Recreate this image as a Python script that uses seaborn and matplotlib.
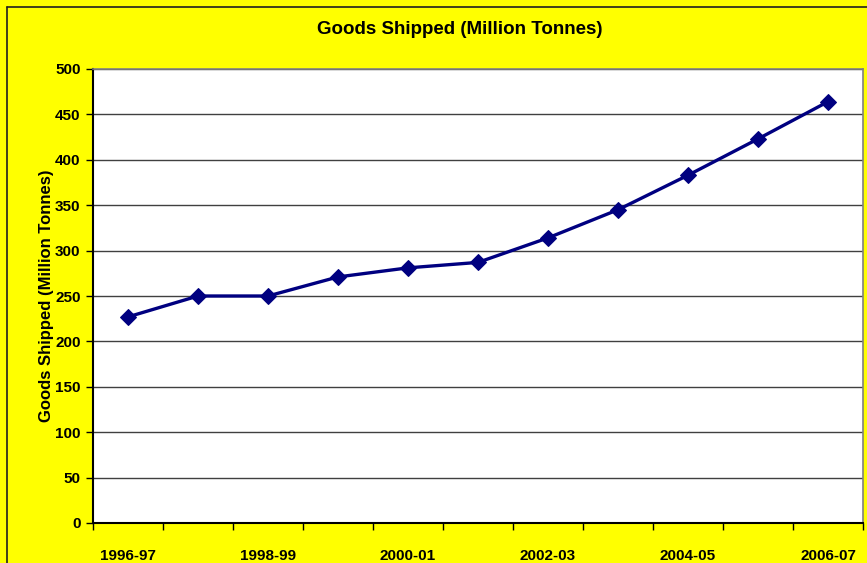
import matplotlib
matplotlib.use("Agg")
import matplotlib.pyplot as plt
import seaborn as sns
import pandas as pd
from matplotlib.lines import Line2D

years = ["1996-97", "1997-98", "1998-99", "1999-00", "2000-01", "2001-02",
         "2002-03", "2003-04", "2004-05", "2005-06", "2006-07"]
shipped = [227, 250, 250, 271, 281, 287, 314, 345, 383, 423, 464]
y_ticks = [0, 50, 100, 150, 200, 250, 300, 350, 400, 450, 500]

sns.set_theme(style="white")
plt.rcParams['font.family'] = ['Liberation Sans', 'DejaVu Sans']
plt.rcParams['text.color'] = 'black'
plt.rcParams['axes.labelcolor'] = 'black'
plt.rcParams['xtick.color'] = 'black'
plt.rcParams['ytick.color'] = 'black'

W, H = 867, 563
fig = plt.figure(figsize=(W / 100, H / 100), dpi=100)
fig.patch.set_facecolor("#FFFF00")

ax = fig.add_axes([93 / W, 1 - 523 / H, (863 - 93) / W, (523 - 69) / H])
ax.set_facecolor("white")

df = pd.DataFrame({"x": range(len(years)), "y": shipped})
sns.lineplot(data=df, x="x", y="y", ax=ax, color="#000080", linewidth=2.4,
             marker="D", markersize=8, markeredgecolor="#000080")

ax.set_xlim(-0.5, len(years) - 0.5)
ax.set_ylim(0, 500)
ax.set_yticks(y_ticks)
ax.set_yticklabels([str(v) for v in y_ticks], fontsize=11, fontweight="bold")
for v in y_ticks[1:]:
    ax.axhline(v, color="#404040", linewidth=1, zorder=0)

ax.set_xticks(range(0, len(years), 2))
ax.set_xticklabels([years[i] for i in range(0, len(years), 2)],
                   fontsize=11, fontweight="bold")
ax.set_xticks([i - 0.5 for i in range(len(years) + 1)], minor=True)
ax.tick_params(axis="x", which="major", length=0, pad=19)
ax.tick_params(axis="x", which="minor", length=5, width=1, color="black",
               direction="out", bottom=True)
ax.tick_params(axis="y", which="major", length=5, width=1, color="black",
               direction="out", left=True, pad=4)

for s in ["left", "bottom"]:
    ax.spines[s].set_color("black")
    ax.spines[s].set_linewidth(1.5)
for s in ["top", "right"]:
    ax.spines[s].set_color("#808080")
    ax.spines[s].set_linewidth(1.2)

ax.set_xlabel("")
ax.set_ylabel("Goods Shipped (Million Tonnes)", fontsize=12, fontweight="bold")
ax.yaxis.set_label_coords((54 - 93) / 770, 0.5)

fig.text((316 + 604) / 2 / W, 1 - 29 / H, "Goods Shipped (Million Tonnes)",
         ha="center", va="center", fontsize=13.5, fontweight="bold")

# chart area border
fig.add_artist(Line2D([7 / W, 7 / W], [0, 1 - 7 / H], transform=fig.transFigure,
                      color="#202020", linewidth=1.2))
fig.add_artist(Line2D([7 / W, 1], [1 - 7 / H, 1 - 7 / H], transform=fig.transFigure,
                      color="#202020", linewidth=1.2))

fig.savefig("out.png", dpi=100, facecolor=fig.get_facecolor())
